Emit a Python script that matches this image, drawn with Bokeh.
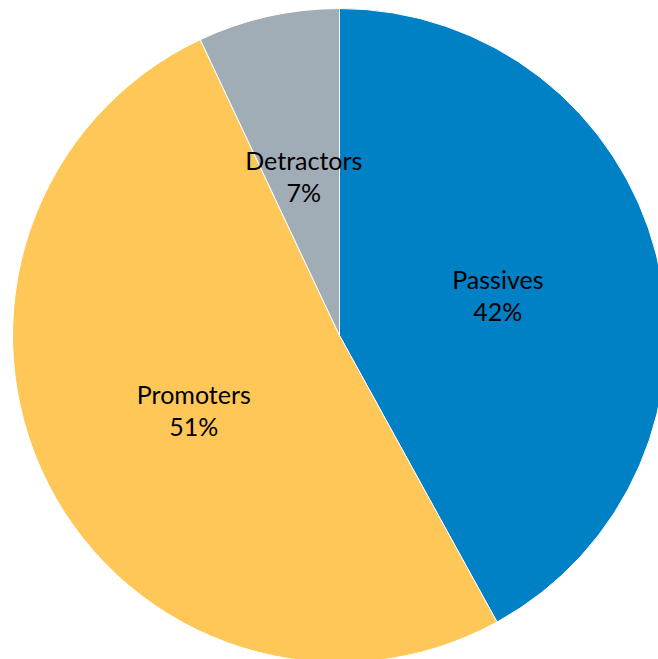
import math
from bokeh.plotting import figure
from bokeh.models import ColumnDataSource
from bokeh.core.properties import value
from bokeh.embed import file_html
from bokeh.resources import INLINE

categories = ["Passives", "Promoters", "Detractors"]
shares = [42, 51, 7]
pct_labels = ["42%", "51%", "7%"]
colors = ["#0081C6", "#FFC758", "#A0ACB6"]

W, H = 658, 659
cx, cy = 339, H - 335
R = 327

total = float(sum(shares))
starts, ends, mids = [], [], []
acc = 0.0
for s in shares:
    a0 = math.pi / 2 - 2 * math.pi * acc / total
    acc += s
    a1 = math.pi / 2 - 2 * math.pi * acc / total
    starts.append(a0)
    ends.append(a1)
    mids.append((a0 + a1) / 2)

lx = [cx + 0.5 * R * math.cos(m) for m in mids]
ly = [cy + 0.5 * R * math.sin(m) for m in mids]

src = ColumnDataSource(dict(cat=categories, pct=pct_labels, color=colors,
                            start=starts, end=ends, lx=lx, ly=ly,
                            x=[cx] * 3, y=[cy] * 3))

p = figure(width=W, height=H, x_range=(0, W), y_range=(0, H),
           output_backend="svg", toolbar_location=None, min_border=0)
p.axis.visible = False
p.grid.visible = False
p.outline_line_color = None

p.wedge(x="x", y="y", radius=R, start_angle="start", end_angle="end",
        direction="clock", fill_color="color", line_color="white",
        line_width=1, source=src)

p.text(x="lx", y="ly", text="cat", source=src, text_align="center",
       text_baseline="middle", y_offset=-16, text_font=value("Lato"),
       text_font_size="25px", text_color="black")
p.text(x="lx", y="ly", text="pct", source=src, text_align="center",
       text_baseline="middle", y_offset=16, text_font=value("Lato"),
       text_font_size="25px", text_color="black")

open("out.html", "w").write(file_html(p, INLINE))
